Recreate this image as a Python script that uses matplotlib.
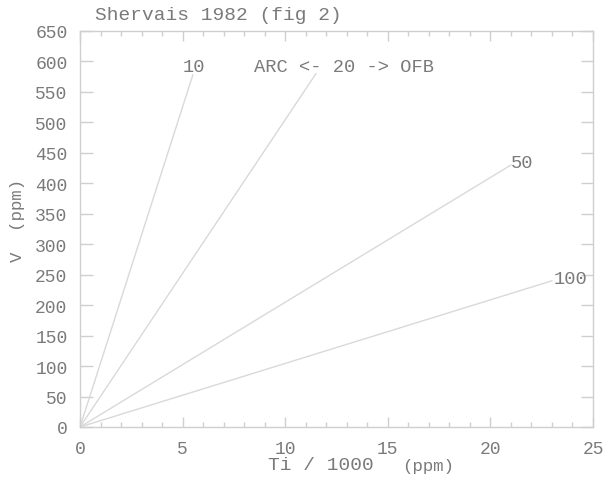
import numpy as np
import matplotlib
matplotlib.use("Agg")
import matplotlib.pyplot as plt
from matplotlib.ticker import MultipleLocator

# Ti/V ratio lines (Shervais 1982), end points
ratio_labels = ["10", "20", "50", "100"]
end_ti = [5.5, 11.5, 21.0, 23.0]      # Ti / 1000 (ppm)
end_v = [578, 580, 430, 240]          # V (ppm)

# label positions for each line
label_text = ["10", "ARC <- 20 -> OFB", "50", "100"]
label_x = [5.55, 12.85, 21.55, 23.9]
label_y = [592, 592, 434, 243]

txt_col = "#7a7a7a"
axis_col = "#cfcfcf"
line_col = "#d9d9d9"
mono = "Liberation Mono"

plt.rcParams["font.family"] = [mono, "DejaVu Sans Mono"]

fig = plt.figure(figsize=(6.08, 4.81), dpi=100)
ax = fig.add_axes([80 / 608, 1 - 428 / 481, (593 - 80) / 608, (428 - 32) / 481])

for xe, ye in zip(end_ti, end_v):
    ax.plot([0, xe], [0, ye], color=line_col, lw=1.0)

for t, lx, ly in zip(label_text, label_x, label_y):
    ax.text(lx, ly, t, ha="center", va="center", fontsize=13.5, color=txt_col)

ax.set_xlim(0, 25)
ax.set_ylim(0, 650)
ax.xaxis.set_major_locator(MultipleLocator(5))
ax.xaxis.set_minor_locator(MultipleLocator(1))
ax.yaxis.set_major_locator(MultipleLocator(50))

for s in ax.spines.values():
    s.set_color(axis_col)
    s.set_linewidth(1.0)

ax.tick_params(axis="x", which="major", direction="in", length=7, width=1,
               color=axis_col, labelcolor=txt_col, labelsize=13, pad=9.5,
               top=True, bottom=True)
ax.tick_params(axis="x", which="minor", direction="in", length=3.5, width=1,
               color=axis_col, top=True, bottom=True)
ax.tick_params(axis="y", which="major", direction="in", length=9, width=1,
               color=axis_col, labelcolor=txt_col, labelsize=13, pad=9,
               left=True, right=True)

fig.text(95 / 608, 1 - 16 / 481, "Shervais 1982 (fig 2)", ha="left", va="center",
         fontsize=14, color=txt_col)
fig.text(268 / 608, 1 - 466 / 481, "Ti / 1000", ha="left", va="center",
         fontsize=14, color=txt_col)
fig.text(402 / 608, 1 - 467 / 481, "(ppm)", ha="left", va="center",
         fontsize=12.5, color=txt_col)
fig.text(18 / 608, 1 - 221 / 481, "V  (ppm)", ha="center", va="center",
         rotation=90, fontsize=12.5, color=txt_col)

fig.savefig("out.png", dpi=100, facecolor="white")
